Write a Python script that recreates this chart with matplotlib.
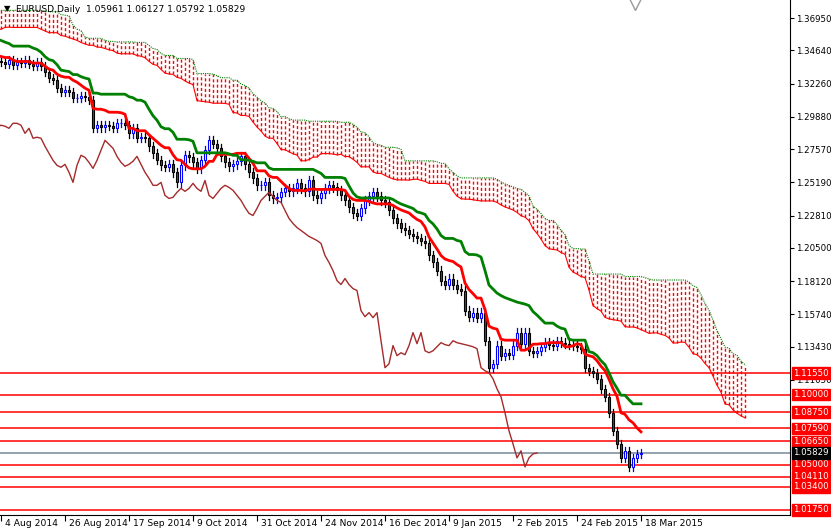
import numpy as np
import matplotlib
matplotlib.use("Agg")
import matplotlib.pyplot as plt

# ---- data ----
pre_closes = [1.379,1.380,1.381,
 1.381,1.382,1.381,1.380,1.382,1.383,1.384,1.383,1.385,1.387,
 1.388,1.387,1.393,1.394,1.396,1.384,1.376,1.378,1.371,1.370,1.369,1.370,1.371,1.368,1.367,1.363,1.364,1.360,1.360,1.363,
 1.363,1.366,1.360,1.359,1.366,1.364,1.359,1.354,1.354,1.357,1.354,1.359,1.360,1.363,1.360,1.362,1.362,1.364,1.366,1.369,
 1.368,1.366,1.359,1.360,1.361,1.361,1.363,1.361,1.359,1.355,1.353,1.352,1.352,1.353,1.348,1.347,1.346,1.345,1.346,1.343,
 1.341,1.339,1.340,1.341,1.339]

closes = [
 1.3379,1.3365,1.3394,1.3358,1.3379,1.3372,1.3394,1.3365,1.3351,1.3379,
 1.3351,1.3308,1.3265,1.3250,1.3193,1.3164,1.3179,1.3164,1.3121,1.3121,
 1.3136,1.3129,1.3107,1.2906,1.2928,1.2913,
 1.2928,1.2921,1.2906,1.2942,1.2942,1.2928,1.2870,1.2906,1.2835,1.2842,
 1.2835,1.2777,1.2727,1.2677,1.2641,1.2627,1.2648,1.2591,1.2519,1.2641,
 1.2713,1.2698,1.2662,1.2619,1.2677,1.2749,1.2820,1.2792,1.2763,1.2705,
 1.2662,1.2634,1.2648,1.2670,1.2705,1.2648,1.2591,1.2548,1.2498,1.2498,
 1.2519,1.2426,1.2404,1.2412,1.2448,1.2476,1.2455,1.2476,1.2512,1.2476,
 1.2455,1.2533,1.2426,1.2404,1.2440,1.2476,1.2498,1.2483,1.2462,1.2426,
 1.2390,1.2340,1.2297,1.2282,1.2333,1.2390,1.2419,1.2448,1.2419,1.2390,
 1.2376,1.2318,1.2261,1.2225,1.2196,1.2175,1.2153,1.2132,1.2118,1.2103,
 1.2082,1.1996,1.1946,1.1888,1.1816,1.1788,1.1831,1.1788,1.1759,1.1745,
 1.1601,1.1558,1.1587,1.1551,1.1587,1.1386,1.1193,1.1221,1.1351,1.1279,
 1.1300,1.1286,1.1351,1.1444,1.1365,1.1444,1.1314,1.1300,1.1314,1.1343,
 1.1372,1.1358,1.1351,1.1386,1.1372,1.1365,1.1358,1.1351,1.1343,1.1329,
 1.1193,1.1171,1.1157,1.1114,1.1042,1.0985,1.0870,1.0741,1.0648,1.0548,
 1.0598,1.0483,1.0548,1.0576,1.0583]

date_labels = ["4 Aug 2014","26 Aug 2014","17 Sep 2014","9 Oct 2014","31 Oct 2014",
               "24 Nov 2014","16 Dec 2014","9 Jan 2015","2 Feb 2015","24 Feb 2015","18 Mar 2015"]
yticks = [1.36950,1.34640,1.32260,1.29880,1.27570,1.25190,1.22810,1.20500,1.18120,1.15740,1.13430,1.11050]
levels = [1.11550,1.10000,1.08750,1.07590,1.06650,1.05000,1.04110,1.03400,1.01750]
current = 1.05829
header = "EURUSD,Daily  1.05961 1.06127 1.05792 1.05829"
WICK = 0.0030

# ---- computation ----
allc = np.array(pre_closes + closes)
P = len(pre_closes)
N = len(allc)
opens = np.concatenate([[allc[0]], allc[:-1]])
highs = np.maximum(opens, allc) + WICK
lows = np.minimum(opens, allc) - WICK
idx = np.arange(N) - P

def mid(n):
    out = np.full(N, np.nan)
    for i in range(n - 1, N):
        out[i] = (highs[i-n+1:i+1].max() + lows[i-n+1:i+1].min()) / 2
    return out

tenkan = mid(9); kijun = mid(26); sb = mid(52)
sa = (tenkan + kijun) / 2

FS = 6.6
FSR = 6.2
fig = plt.figure(figsize=(8.31, 5.32), dpi=100)
ax = fig.add_axes([0, 17/532, 790/831, 515/532])
ax.set_facecolor("white")

# cloud
for i in range(N):
    x = idx[i] + 26
    a, b = sa[i], sb[i]
    if np.isnan(a) or np.isnan(b):
        continue
    ax.plot([x, x], [min(a, b), max(a, b)], color="red", lw=1.0, ls=(0, (2.2, 1.6)), zorder=1)
ax.plot(idx + 26, sa, color="red", lw=0.8, zorder=1)
ax.plot(idx + 26, sb, color="green", lw=0.8, ls=(0, (1, 1)), zorder=1)

# levels
for lv in levels:
    ax.axhline(lv, color="red", lw=1.1, zorder=2)
ax.axhline(current, color="#778899", lw=1.1, zorder=2)

# candles
vis = idx >= 0
for i in np.where(vis)[0]:
    x = idx[i]; o = opens[i]; c = allc[i]
    if c >= o:
        ax.plot([x, x], [lows[i], highs[i]], color="blue", lw=0.9, zorder=3)
        ax.bar(x, max(c - o, 0.0003), bottom=o, width=0.65, color="white", edgecolor="blue", lw=0.8, zorder=4)
    else:
        ax.plot([x, x], [lows[i], highs[i]], color="black", lw=0.9, zorder=3)
        ax.bar(x, o - c, bottom=c, width=0.65, color="red", edgecolor="black", lw=0.8, zorder=4)

ax.plot(idx[vis], tenkan[vis], color="red", lw=2, zorder=5)
ax.plot(idx[vis], kijun[vis], color="green", lw=2, zorder=5)
ax.plot(idx[vis] - 26, allc[vis], color="#a52a2a", lw=1, zorder=5)

ax.set_xlim(-0.25, 197.25)
ax.set_ylim(1.0139, 1.3824)
for s in ["top", "left"]:
    ax.spines[s].set_visible(False)
ax.spines["right"].set_color("black"); ax.spines["bottom"].set_color("black")
ax.yaxis.tick_right()
ax.set_yticks(yticks)
ax.set_yticklabels([f"{v:.5f}" for v in yticks], fontsize=FSR)
ax.tick_params(axis="y", length=3, pad=1.2, direction="out")
tpos = np.arange(len(date_labels)) * 16
ax.set_xticks(tpos)
ax.set_xticklabels([])
ax.tick_params(axis="x", length=4, direction="out")
for t, lab in zip(tpos, date_labels):
    ax.annotate(lab, (t, 0), xycoords=("data", "axes fraction"), xytext=(3, -3),
                textcoords="offset points", fontsize=FS, ha="left", va="top", annotation_clip=False)

for lv in levels:
    ax.annotate(f"{lv:.5f}", (1, lv), xycoords=("axes fraction", "data"), xytext=(2.2, 0),
                textcoords="offset points", fontsize=FSR, color="white", va="center", ha="left",
                bbox=dict(boxstyle="square,pad=0.15", fc="red", ec="red"), annotation_clip=False, zorder=10)
ax.annotate(f"{current:.5f}", (1, current), xycoords=("axes fraction", "data"), xytext=(2.2, 0),
            textcoords="offset points", fontsize=FSR, color="white", va="center", ha="left",
            bbox=dict(boxstyle="square,pad=0.15", fc="black", ec="black"), annotation_clip=False, zorder=11)

fig.text(4/831, 1 - 9/532, "▼", fontsize=6, va="center", ha="left")
fig.text(16/831, 1 - 9/532, header, fontsize=FS, va="center", ha="left")
ax.plot([158.5], [1.3795], marker="v", ms=8, mfc="white", mec="#999999", clip_on=False, zorder=12)

fig.savefig("out.png", dpi=100, facecolor="white")
